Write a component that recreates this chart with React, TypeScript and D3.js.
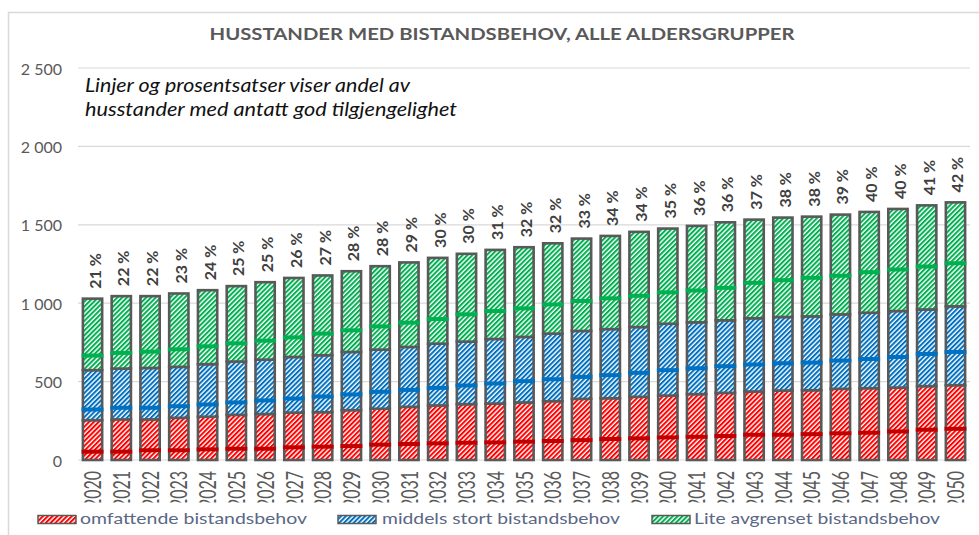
import React from 'react';
import { scaleBand, scaleLinear } from 'd3';

// Chart data
const years = [
  '2020', '2021', '2022', '2023', '2024', '2025', '2026', '2027', '2028', '2029',
  '2030', '2031', '2032', '2033', '2034', '2035', '2036', '2037', '2038', '2039',
  '2040', '2041', '2042', '2043', '2044', '2045', '2046', '2047', '2048', '2049', '2050',
];

// households per category (stacked bars)
const omfattende = [
  254, 259, 259, 269, 276, 288, 293, 302, 305, 318, 327, 339, 348, 356, 360, 367,
  375, 390, 394, 403, 411, 420, 428, 437, 443, 445, 454, 458, 462, 471, 477,
];
const middels = [
  319, 324, 328, 325, 335, 340, 347, 355, 363, 371, 377, 382, 394, 399, 412, 418,
  431, 433, 441, 445, 458, 458, 463, 467, 469, 471, 475, 481, 488, 489, 503,
];
const lite = [
  456, 462, 458, 468, 472, 481, 494, 504, 509, 515, 532, 539, 547, 560, 568, 572,
  576, 589, 594, 607, 607, 615, 625, 629, 634, 636, 636, 643, 651, 664, 663,
];

// of which: households with assumed good accessibility (line markers)
const omfattendeGod = [
  53, 53, 62, 62, 68, 72, 72, 81, 85, 89, 98, 102, 106, 110, 112, 117,
  121, 127, 134, 138, 144, 148, 153, 161, 161, 165, 170, 174, 182, 193, 199,
];
const middelsGod = [
  68, 74, 74, 74, 78, 79, 87, 90, 100, 100, 108, 108, 112, 119, 128, 136,
  140, 140, 147, 153, 162, 165, 170, 172, 174, 176, 180, 186, 195, 205, 212,
];
const liteGod = [
  93, 100, 104, 112, 114, 116, 121, 125, 138, 138, 148, 155, 157, 174, 178, 182,
  186, 191, 196, 199, 200, 203, 207, 226, 235, 246, 246, 259, 265, 274, 275,
];

const andelGod = [
  21, 22, 22, 23, 24, 25, 25, 26, 27, 28, 28, 29, 30, 30, 31, 32,
  32, 33, 34, 34, 35, 36, 36, 37, 38, 38, 39, 40, 40, 41, 42,
];

const yTicks = [0, 500, 1000, 1500, 2000, 2500];
const yTickLabels = ['0', '500', '1 000', '1 500', '2 000', '2 500'];

const seriesNames = ['omfattende bistandsbehov', 'middels stort bistandsbehov', 'Lite avgrenset bistandsbehov'];

const title = 'HUSSTANDER MED BISTANDSBEHOV, ALLE ALDERSGRUPPER';
const noteLines = ['Linjer og prosentsatser viser andel av', 'husstander med antatt god tilgjengelighet'];

const W = 979;
const H = 535;
const FONT = 'Lato, "Open Sans", sans-serif';
const GREY = '#595959';
const fills = ['#ff0000', '#0070c0', '#00b050'];
const markerColors = ['#c00000', '#0070c0', '#00b050'];
const patternIds = ['pat-red', 'pat-blue', 'pat-green'];

const App: React.FC = () => {
  const x = scaleBand<string>()
    .domain(years)
    .range([78, 970])
    .paddingInner(0.33)
    .paddingOuter(0.17);
  const y = scaleLinear().domain([0, 2500]).range([460, 68]);
  const bw = x.bandwidth();

  const segments = [omfattende, middels, lite];
  const goods = [omfattendeGod, middelsGod, liteGod];

  // legend layout
  const legendSwatchX = [38, 338, 652];
  const legendTextX = [80, 382, 694];
  const legendTextLen = [227, 238, 246];

  return (
    <svg
      width={W}
      height={H}
      style={{ position: 'absolute', left: 0, top: 0, background: '#fff' }}
      fontFamily={FONT}
    >
      <defs>
        {patternIds.map((id, i) => (
          <pattern
            key={id}
            id={id}
            patternUnits="userSpaceOnUse"
            width={3.4}
            height={3.4}
            patternTransform="rotate(45)"
          >
            <rect width={3.4} height={3.4} fill="#fff" />
            <rect width={2} height={3.4} fill={fills[i]} />
          </pattern>
        ))}
        <clipPath id="xlab-clip">
          <rect x={0} y={462} width={W} height={40.5} />
        </clipPath>
      </defs>

      {/* chart frame */}
      <rect x={8.5} y={12.5} width={1000} height={600} fill="#fff" stroke="#d9d9d9" strokeWidth={1.5} />

      {/* title and note */}
      <text
        x={502}
        y={39.5}
        textAnchor="middle"
        fontWeight="bold"
        fontSize={17.5}
        fill={GREY}
        textLength={585}
        lengthAdjust="spacingAndGlyphs"
      >
        {title}
      </text>
      {noteLines.map((t, i) => (
        <text
          key={t}
          x={85}
          y={92 + i * 24}
          fontStyle="italic"
          fontSize={19}
          fill="#111"
          textLength={i === 0 ? 325 : 372}
          lengthAdjust="spacingAndGlyphs"
        >
          {t}
        </text>
      ))}

      {/* grid and y axis */}
      {yTicks.map((t, i) => (
        <g key={t}>
          <line x1={78} x2={970} y1={y(t)} y2={y(t)} stroke="#d9d9d9" strokeWidth={1.2} />
          <text x={62} y={y(t)} textAnchor="end" dominantBaseline="central" fontSize={16} fill={GREY}>
            {yTickLabels[i]}
          </text>
        </g>
      ))}

      {/* stacked bars */}
      {years.map((yr, j) => {
        let base = 0;
        const x0 = x(yr)!;
        return (
          <g key={yr}>
            {segments.map((seg, s) => {
              const v0 = base;
              base += seg[j];
              return (
                <rect
                  key={s}
                  x={x0}
                  y={y(base)}
                  width={bw}
                  height={y(v0) - y(base)}
                  fill={`url(#${patternIds[s]})`}
                  stroke={GREY}
                  strokeWidth={2.6}
                />
              );
            })}
          </g>
        );
      })}

      {/* good accessibility markers */}
      {years.map((yr, j) => {
        const x0 = x(yr)!;
        let base = 0;
        return (
          <g key={yr}>
            {segments.map((seg, s) => {
              const lvl = base + goods[s][j];
              base += seg[j];
              return (
                <line
                  key={s}
                  x1={x0 - 1.3}
                  x2={x0 + bw + 1.3}
                  y1={y(lvl)}
                  y2={y(lvl)}
                  stroke={markerColors[s]}
                  strokeWidth={4}
                />
              );
            })}
          </g>
        );
      })}

      {/* percent labels */}
      {years.map((yr, j) => {
        const total = omfattende[j] + middels[j] + lite[j];
        const cx = x(yr)! + bw / 2 + 1.5;
        return (
          <text
            key={yr}
            transform={`translate(${cx},${y(total) - 10}) rotate(-90)`}
            textAnchor="start"
            dominantBaseline="central"
            fontWeight="bold"
            fontSize={16}
            fill="#404040"
          >
            {`${andelGod[j]} %`}
          </text>
        );
      })}

      {/* x labels */}
      <g clipPath="url(#xlab-clip)">
        {years.map((yr) => {
          const cx = x(yr)! + bw / 2;
          return (
            <text
              key={yr}
              transform={`translate(${cx},471) scale(1.42,1) rotate(-90)`}
              textAnchor="end"
              dominantBaseline="central"
              fontSize={16}
              fill={GREY}
            >
              {yr}
            </text>
          );
        })}
      </g>

      {/* legend */}
      {seriesNames.map((name, i) => (
        <g key={name}>
          <rect
            x={legendSwatchX[i]}
            y={515.5}
            width={38}
            height={8}
            fill={`url(#${patternIds[i]})`}
            stroke={GREY}
            strokeWidth={1.5}
          />
          <text
            x={legendTextX[i]}
            y={523.5}
            fontSize={15}
            fill="#5a6785"
            textLength={legendTextLen[i]}
            lengthAdjust="spacingAndGlyphs"
          >
            {name}
          </text>
        </g>
      ))}
    </svg>
  );
};

export default App;
